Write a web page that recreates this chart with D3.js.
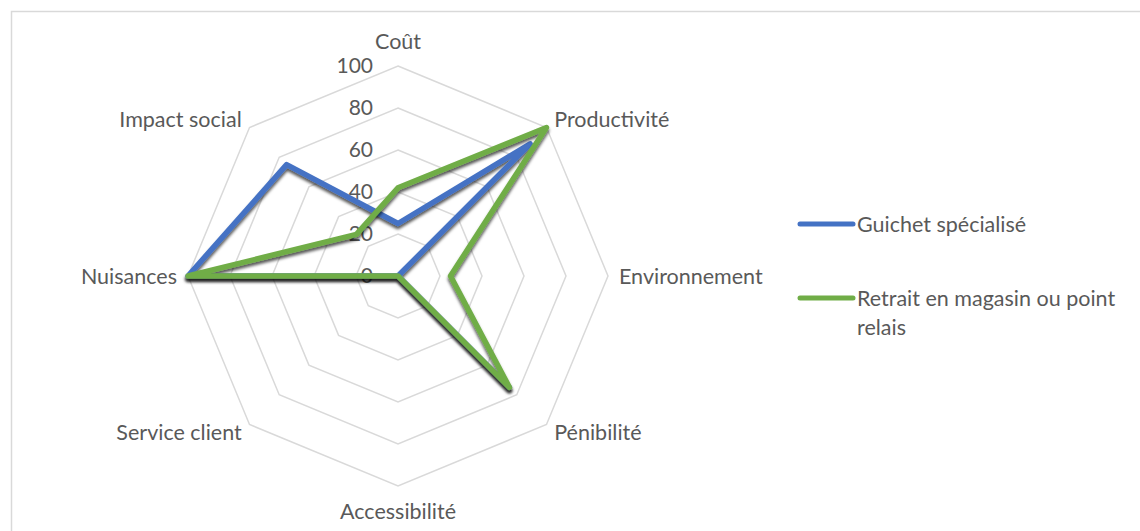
<!DOCTYPE html>
<html>
<head>
<meta charset="utf-8">
<script src="https://cdn.jsdelivr.net/npm/d3@7"></script>
<style>
  body { margin: 0; background: #fff; }
  svg text { font-family: Lato, "Open Sans", sans-serif; fill: #595959; }
</style>
</head>
<body>
<div id="chart"></div>
<script>
// axes of the radar, clockwise from the top
var categories = ["Coût", "Productivité", "Environnement", "Pénibilité",
                  "Accessibilité", "Service client", "Nuisances", "Impact social"];
var guichetValues = [25, 89, 0, 75, 0, 0, 100, 75];
var retraitValues = [42, 100, 25, 75, 0, 0, 100, 28];
var seriesNames = ["Guichet spécialisé", "Retrait en magasin ou point relais"];
var seriesColors = ["#4472C4", "#70AD47"];
var tickValues = [0, 20, 40, 60, 80, 100];

var width = 1140, height = 531;
var cx = 398, cy = 276, radius = 210;

var svg = d3.select("#chart").append("svg")
    .attr("width", width)
    .attr("height", height);

// drop shadow like the excel line effect
var defs = svg.append("defs");
defs.append("filter")
    .attr("id", "shadow")
    .attr("x", "-10%").attr("y", "-10%")
    .attr("width", "120%").attr("height", "130%")
  .append("feDropShadow")
    .attr("dx", 0).attr("dy", 3)
    .attr("stdDeviation", 1.8)
    .attr("flood-color", "#000")
    .attr("flood-opacity", 0.65);

// chart area border
svg.append("rect")
    .attr("x", 11.5).attr("y", 11.5)
    .attr("width", 1200).attr("height", 600)
    .attr("fill", "none")
    .attr("stroke", "#d9d9d9")
    .attr("stroke-width", 1.5);

var g = svg.append("g").attr("transform", "translate(" + cx + "," + cy + ")");

var r = d3.scaleLinear().domain([0, 100]).range([0, radius]);
var angle = d3.scalePoint()
    .domain(categories)
    .range([0, 2 * Math.PI * (categories.length - 1) / categories.length]);

var radial = d3.lineRadial()
    .angle(function(d) { return angle(d.cat); })
    .radius(function(d) { return r(d.v); })
    .curve(d3.curveLinearClosed);

// grid rings
g.selectAll(".ring")
    .data(tickValues.filter(function(t) { return t > 0; }))
    .enter().append("path")
    .attr("class", "ring")
    .attr("d", function(t) {
      return radial(categories.map(function(c) { return {cat: c, v: t}; }));
    })
    .attr("fill", "none")
    .attr("stroke", "#d9d9d9")
    .attr("stroke-width", 1.5);

// value axis labels
g.selectAll(".tick")
    .data(tickValues)
    .enter().append("text")
    .attr("class", "tick")
    .attr("x", -25)
    .attr("y", function(t) { return -r(t); })
    .attr("dy", "0.35em")
    .attr("text-anchor", "end")
    .style("font-size", "21px")
    .text(function(t) { return t; });

// category labels
g.selectAll(".cat")
    .data(categories)
    .enter().append("text")
    .attr("class", "cat")
    .attr("x", function(c) { return Math.sin(angle(c)) * (radius + 11); })
    .attr("y", function(c) { return -Math.cos(angle(c)) * (radius + 11); })
    .attr("dy", function(c) {
      var cos = Math.cos(angle(c));
      if (cos > 0.9) return "-0.3em";
      if (cos < -0.9) return "1.0em";
      return "0.35em";
    })
    .attr("text-anchor", function(c) {
      var s = Math.sin(angle(c));
      if (s > 0.1) return "start";
      if (s < -0.1) return "end";
      return "middle";
    })
    .style("font-size", "21.5px")
    .text(function(c) { return c; });

// series lines
var allSeries = [guichetValues, retraitValues];
g.selectAll(".series")
    .data(allSeries)
    .enter().append("path")
    .attr("class", "series")
    .attr("d", function(vals) {
      return radial(vals.map(function(v, i) { return {cat: categories[i], v: v}; }));
    })
    .attr("fill", "none")
    .attr("stroke", function(d, i) { return seriesColors[i]; })
    .attr("stroke-width", 5.5)
    .attr("stroke-linejoin", "round")
    .attr("filter", "url(#shadow)");

// legend
var legend = svg.append("g").attr("transform", "translate(800,224)");
var legendItems = legend.selectAll(".leg")
    .data(seriesNames)
    .enter().append("g")
    .attr("class", "leg")
    .attr("transform", function(d, i) { return "translate(0," + (i * 74) + ")"; });

legendItems.append("line")
    .attr("x1", 0).attr("x2", 53)
    .attr("stroke", function(d, i) { return seriesColors[i]; })
    .attr("stroke-width", 5)
    .attr("stroke-linecap", "round");

legendItems.append("text")
    .attr("x", 57)
    .style("font-size", "21.5px")
    .each(function(d) {
      var t = d3.select(this);
      var lines = d === seriesNames[1] ? ["Retrait en magasin ou point", "relais"] : [d];
      lines.forEach(function(line, k) {
        t.append("tspan").attr("x", 57).attr("dy", k === 0 ? "0.35em" : "1.35em").text(line);
      });
    });
</script>
</body>
</html>
